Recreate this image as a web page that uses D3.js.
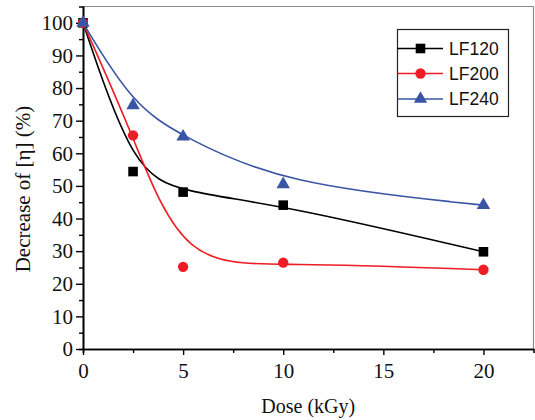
<!DOCTYPE html>
<html>
<head>
<meta charset="utf-8">
<script src="https://cdn.jsdelivr.net/npm/d3@7"></script>
<style>
  html, body { margin: 0; padding: 0; background: #fff; }
  svg { display: block; }
  .tick text { font-family: "Liberation Serif", "Times New Roman", serif; }
</style>
</head>
<body>
<svg id="chart" width="535" height="420"></svg>
<script>
// Dose (kGy) and decrease of intrinsic viscosity (%) per sample
const dose = [0, 2.5, 5, 10, 20];
const lf120 = [100, 54.4, 48.1, 44.1, 29.8];
const lf200 = [100, 65.5, 25.2, 26.5, 24.3];
const lf240 = [100, 74.7, 65.1, 50.5, 44.1];

const seriesNames = ["LF120", "LF200", "LF240"];
const seriesColors = ["#000000", "#ee1c24", "#3a55a5"];
const seriesSymbols = [d3.symbolSquare, d3.symbolCircle, d3.symbolTriangle];
const symbolSizes = [92, 84, 78];

const xMajorTicks = [0, 5, 10, 15, 20];
const xMinorTicks = [2.5, 7.5, 12.5, 17.5];
const yMajorTicks = [0, 10, 20, 30, 40, 50, 60, 70, 80, 90, 100];
const yMinorTicks = [5, 15, 25, 35, 45, 55, 65, 75, 85, 95];

const svg = d3.select("#chart");
const plotLeft = 83, plotRight = 533.5, plotTop = 6.5, plotBottom = 349;

const x = d3.scaleLinear().domain([0, 22.5]).range([plotLeft, plotRight]);
const y = d3.scaleLinear().domain([0, 105]).range([plotBottom, plotTop]);

// frame: thin grey top and right edges
svg.append("line").attr("x1", plotLeft).attr("x2", plotRight).attr("y1", plotTop).attr("y2", plotTop)
  .attr("stroke", "#8a8a8a").attr("stroke-width", 1.2);
svg.append("line").attr("x1", plotRight).attr("x2", plotRight).attr("y1", plotTop).attr("y2", plotBottom)
  .attr("stroke", "#8a8a8a").attr("stroke-width", 1.2);

// x axis
const gx = svg.append("g").attr("transform", `translate(0,${plotBottom})`);
gx.append("g").call(d3.axisBottom(x).tickValues(xMinorTicks).tickSize(4).tickFormat(""));
gx.append("g").call(d3.axisBottom(x).tickValues(xMajorTicks).tickSize(6).tickSizeOuter(0).tickFormat(d3.format("d")).tickPadding(8));
gx.selectAll(".domain").attr("stroke", "#000").attr("stroke-width", 1.6);
gx.selectAll(".tick line").attr("stroke", "#000").attr("stroke-width", 1.4);
gx.selectAll(".tick text").attr("font-size", 21).attr("fill", "#111");

// y axis
const gy = svg.append("g").attr("transform", `translate(${plotLeft},0)`);
gy.append("g").call(d3.axisLeft(y).tickValues(yMinorTicks).tickSize(4).tickFormat(""));
gy.append("g").call(d3.axisLeft(y).tickValues(yMajorTicks).tickSize(7).tickSizeOuter(0).tickFormat(d3.format("d")).tickPadding(3));
gy.selectAll(".domain").attr("stroke", "#000").attr("stroke-width", 1.6);
gy.selectAll(".tick line").attr("stroke", "#000").attr("stroke-width", 1.4);
gy.selectAll(".tick text").attr("font-size", 21).attr("fill", "#111");

// axis titles
svg.append("text")
  .attr("x", (plotLeft + plotRight) / 2).attr("y", 413)
  .attr("text-anchor", "middle")
  .attr("font-family", "Liberation Serif, Times New Roman, serif")
  .attr("font-size", 20).attr("fill", "#111")
  .text("Dose (kGy)");
svg.append("text")
  .attr("transform", "translate(30,189) rotate(-90)")
  .attr("text-anchor", "middle")
  .attr("font-family", "Liberation Serif, Times New Roman, serif")
  .attr("font-size", 21).attr("fill", "#111")
  .text("Decrease of [η] (%)");

// smoothed trend lines and markers
const seriesValues = [lf120, lf200, lf240];
const line = d3.line()
  .x(d => x(d[0]))
  .y(d => y(d[1]))
  .curve(d3.curveBasis);

seriesValues.forEach((vals, i) => {
  const pts = dose.map((d, j) => [d, vals[j]]);
  svg.append("path")
    .datum(pts)
    .attr("d", line)
    .attr("fill", "none")
    .attr("stroke", seriesColors[i])
    .attr("stroke-width", 1.6);
});

seriesValues.forEach((vals, i) => {
  const sym = d3.symbol().type(seriesSymbols[i]).size(symbolSizes[i]);
  svg.append("g").selectAll("path")
    .data(dose.map((d, j) => [d, vals[j]]))
    .join("path")
    .attr("d", sym)
    .attr("transform", d => `translate(${x(d[0])},${y(d[1])})`)
    .attr("fill", seriesColors[i]);
});

// legend
const lg = svg.append("g");
lg.append("rect")
  .attr("x", 397.5).attr("y", 29.5).attr("width", 111).attr("height", 87)
  .attr("fill", "#fff").attr("stroke", "#222").attr("stroke-width", 1.2);
const rowY = [48.5, 73.5, 99];
seriesNames.forEach((name, i) => {
  const g = lg.append("g").attr("transform", `translate(0,${rowY[i]})`);
  g.append("line").attr("x1", 397.5).attr("x2", 443).attr("y1", 0).attr("y2", 0)
    .attr("stroke", seriesColors[i]).attr("stroke-width", 1.4);
  g.append("path")
    .attr("d", d3.symbol().type(seriesSymbols[i]).size(symbolSizes[i])())
    .attr("transform", "translate(420.5,0)")
    .attr("fill", seriesColors[i]);
  g.append("text")
    .attr("x", 449).attr("y", 0).attr("dy", "0.36em")
    .attr("font-family", "Liberation Sans, Arial, sans-serif")
    .attr("font-size", 17.5).attr("fill", "#111")
    .text(name);
});
</script>
</body>
</html>
